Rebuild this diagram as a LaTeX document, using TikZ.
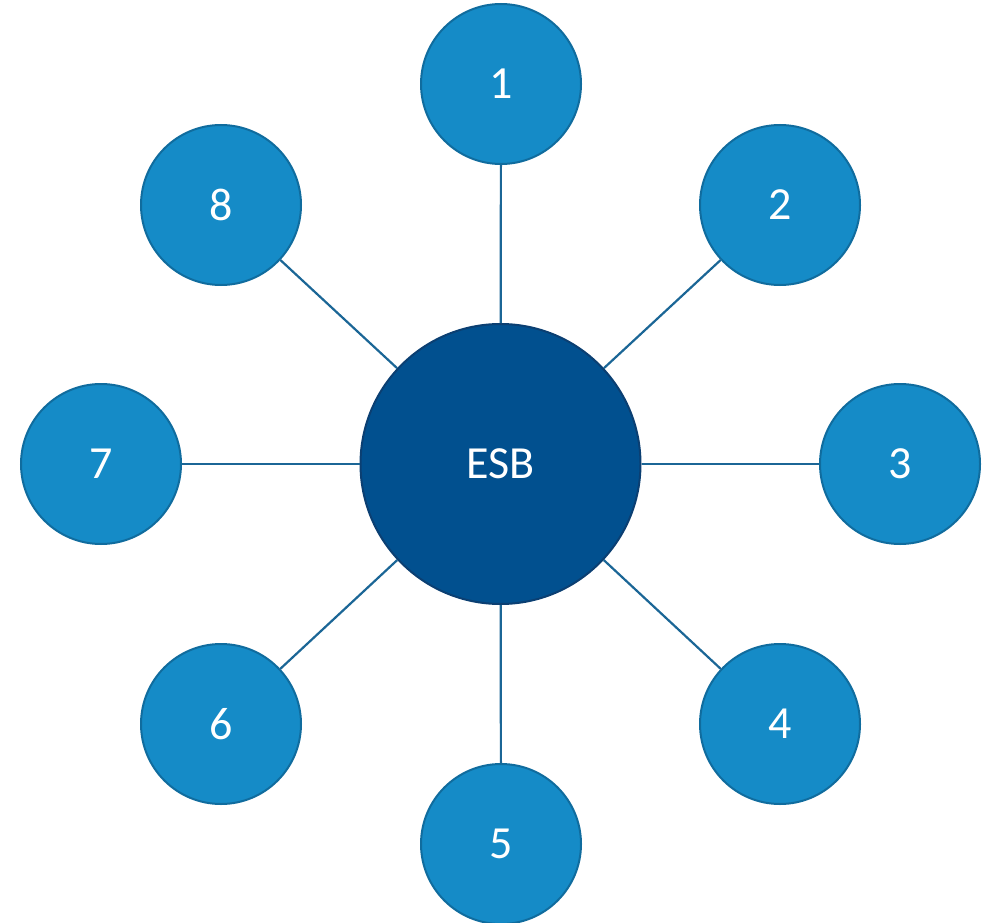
\documentclass[tikz,border=0pt]{standalone}
\usepackage{fontspec}
\setmainfont{Carlito}
\definecolor{satfill}{HTML}{158BC7}
\definecolor{satedge}{HTML}{106C9E}
\definecolor{hubfill}{HTML}{01508F}
\definecolor{hubedge}{HTML}{0B3F72}
\definecolor{spoke}{HTML}{1B6696}
\tikzset{
  sat/.style={circle, fill=satfill, draw=satedge, line width=2pt,
    minimum size=160pt, inner sep=0pt, text=white,
    font=\fontsize{46}{50}\selectfont},
  hub/.style={circle, fill=hubfill, draw=hubedge, line width=2pt,
    minimum size=280pt, inner sep=0pt, text=white,
    font=\fontsize{46}{50}\selectfont},
  link/.style={draw=spoke, line width=2.2pt}
}
\begin{document}
\begin{tikzpicture}[x=1pt,y=-1pt]
  \useasboundingbox (0,0) rectangle (990,923);
  % central bus
  \node[hub] (esb) at (500.5,464) {ESB};
  % eight attached services, clockwise from the top
  \node[sat] (n1) at (501,84)  {1};
  \node[sat] (n2) at (780,205) {2};
  \node[sat] (n3) at (900,464) {3};
  \node[sat] (n4) at (780,724) {4};
  \node[sat] (n5) at (501,844) {5};
  \node[sat] (n6) at (221,724) {6};
  \node[sat] (n7) at (101,464) {7};
  \node[sat] (n8) at (221,205) {8};
  % spokes
  \foreach \n in {n1,n2,n3,n4,n5,n6,n7,n8}
    \draw[link] (esb) -- (\n);
\end{tikzpicture}
\end{document}
